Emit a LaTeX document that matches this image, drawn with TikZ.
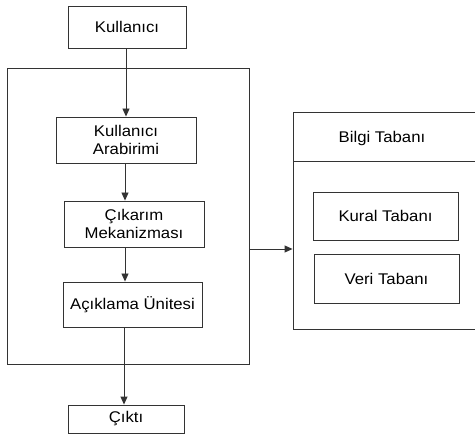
\documentclass[tikz,border=0pt]{standalone}
\usepackage{fontspec}
\setmainfont[FakeStretch=1.08]{Liberation Sans}
\usetikzlibrary{arrows.meta}
\begin{document}
\begin{tikzpicture}[x=1pt,y=-1pt,
  box/.style={draw=black!80,line width=0.9pt,rectangle,inner sep=0pt,align=center,
    font=\fontsize{15.5}{18}\selectfont},
  arr/.style={draw=black!80,line width=0.9pt,-{Triangle[width=7pt,length=8pt]}},
  ln/.style={draw=black!80,line width=0.9pt}]
\useasboundingbox (0,0) rectangle (475,436);
\node[box,minimum width=118pt,minimum height=42pt] (kul) at (127,27) {Kullanıcı};
\node[box,minimum width=242pt,minimum height=296pt] (big) at (128,216) {};
\node[box,minimum width=140pt,minimum height=46pt] (ara) at (126,140) {Kullanıcı\\Arabirimi};
\node[box,minimum width=140pt,minimum height=46pt] (cik) at (134,224) {Çıkarım\\Mekanizması};
\node[box,minimum width=139pt,minimum height=45pt] (ack) at (132.5,304.5) {Açıklama Ünitesi};
\node[box,minimum width=116pt,minimum height=28pt] (out) at (126,419) {Çıktı};
\node[box,minimum width=184pt,minimum height=217pt] (bilgi) at (385,220.5) {};
\node[font=\fontsize{15.5}{18}\selectfont] (bt) at (382,138) {Bilgi Tabanı};
\coordinate (d) at (293,161);
\draw[ln] (d) -- (d -| bilgi.east);
\node[box,minimum width=145pt,minimum height=48pt] (kural) at (385.5,216) {Kural Tabanı};
\node[box,minimum width=145pt,minimum height=49pt] (veri) at (386.5,278.5) {Veri Tabanı};
\draw[arr] ([xshift=-1pt]kul.south) -- ([xshift=-1pt]kul.south |- ara.north);
\draw[arr] ([xshift=-1pt]ara.south) -- ([xshift=-1pt]ara.south |- cik.north);
\draw[arr] ([xshift=-9pt]cik.south) -- ([xshift=-9pt]cik.south |- ack.north);
\draw[arr] ([xshift=-8.5pt]ack.south) -- ([xshift=-8.5pt]ack.south |- out.north);
\coordinate (j) at (249,249);
\draw[arr] (j) -- (j -| bilgi.west);
\end{tikzpicture}
\end{document}
